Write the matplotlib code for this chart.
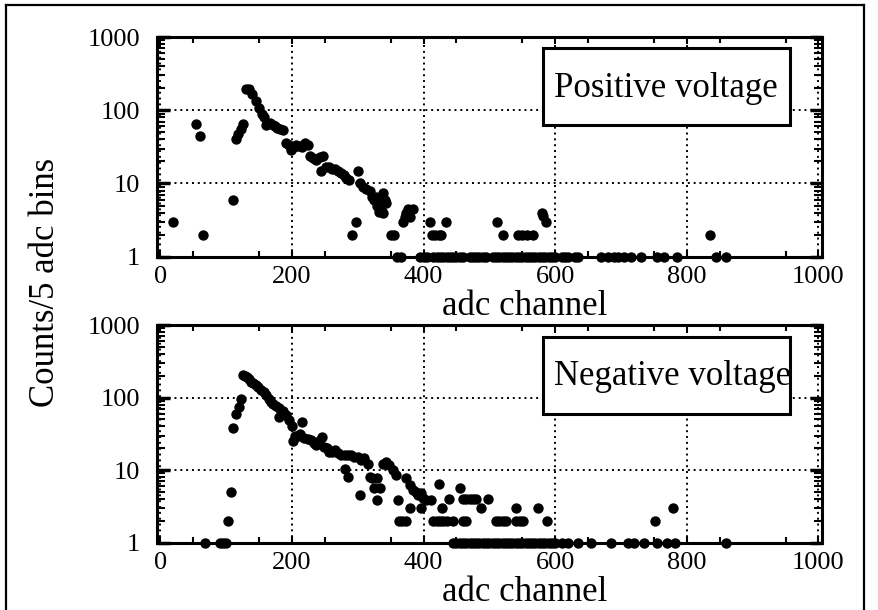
import matplotlib
matplotlib.use("Agg")
import matplotlib.pyplot as plt
from matplotlib.patches import Rectangle
from matplotlib.lines import Line2D
from matplotlib.ticker import FixedLocator, LogLocator, NullFormatter

# ---------------- data ----------------
pos_x = [20, 55, 60, 65, 110, 115, 118, 122, 125,
         130, 135, 140, 145, 150, 155, 158, 161, 166, 171, 175, 178, 182, 186, 191, 195, 199,
         203, 206, 211, 216, 220, 224, 228, 232, 237, 242, 247, 244, 252, 257, 261, 265, 270,
         275, 279, 282, 287, 292, 297, 300, 304, 308, 313, 318, 322, 325, 328, 330, 333, 333,
         336, 338, 338, 341, 343, 350, 355, 369, 372, 374, 377, 379, 384, 410, 413, 418, 423,
         427, 434, 512, 521, 543, 550, 557, 567, 580, 582, 586, 836]
pos_y = [3, 65, 45, 2, 6, 40, 48, 55, 65,
         192, 192, 164, 133, 108, 90, 80, 62, 66, 63, 60, 57, 56, 54, 36, 33, 29,
         31, 33, 32, 31, 36, 34, 24, 22, 21, 23, 24, 15, 17, 17, 16, 16, 15,
         14, 13, 12, 11, 2, 3, 15, 10, 9, 8.5, 8, 6.5, 6, 6.5, 5, 5.5, 4.1,
         4.5, 7.4, 3.9, 6, 5.4, 2, 2, 3, 3.5, 4, 4.5, 3.5, 4.5, 3, 2, 2, 2,
         2, 3, 3, 2, 2, 2, 2, 2, 4, 3.6, 3, 2]
pos_ones = [360, 365, 395, 400, 405, 415, 420, 425, 430, 435, 440, 445, 450, 455, 460, 470,
            475, 480, 485, 490, 495, 505, 510, 515, 520, 525, 530, 535, 540, 545, 550, 555,
            560, 565, 570, 575, 580, 585, 590, 595, 600, 610, 615, 620, 630, 635, 670, 680,
            690, 695, 705, 715, 730, 755, 765, 785, 845, 860]

neg_x = [103, 107, 111, 115, 120, 122, 125, 128, 131, 135, 138, 141, 145, 149, 153, 157,
         161, 165, 168, 172, 176, 181, 181, 186, 191, 196, 200, 201, 204, 209, 213, 216,
         219, 224, 229, 233, 237, 241, 245, 249, 253, 257, 261, 266, 270, 275, 280, 280,
         285, 285, 290, 295, 300, 303, 305, 310, 315, 318, 322, 325, 330, 330, 334, 338,
         343, 348, 353, 358, 361, 363, 368, 373, 373, 379, 379, 384, 389, 391, 396, 396,
         399, 404, 412, 415, 420, 424, 425, 428, 430, 435, 439, 445, 455, 460, 460, 465,
         465, 470, 475, 480, 488, 498, 510, 515, 520, 525, 541, 540, 546, 551, 574, 587,
         751, 779]
neg_y = [2, 5, 38, 60, 74, 97, 205, 200, 192, 178, 165, 158, 148, 138, 126, 118,
         107, 97, 88, 82, 77, 54, 72, 66, 57, 49, 41, 25, 30, 30, 31, 46,
         28, 27, 26, 24, 22, 25, 29, 21, 20, 18, 18, 19, 17, 16, 16, 10.5,
         8, 16, 16, 15, 15, 4.5, 14, 14.5, 12, 8, 7.7, 5.6, 7.7, 3.9, 5.6, 12,
         13, 11.7, 10, 8.5, 3.9, 2, 2, 7.7, 2, 6.2, 3, 5.3, 5, 4.5, 4.8, 3,
         4.1, 3.9, 3.9, 2, 2, 6.5, 2, 3, 2, 2, 4, 2, 5.6, 2, 4, 2,
         4, 4, 4, 4, 3, 4, 2, 2, 2, 2, 3, 2, 2, 2, 3, 2,
         2, 3]
neg_ones = [68, 90, 95, 100] + list(range(445, 601, 5)) + [610, 620, 635, 655, 685, 710,
                                                          720, 735, 755, 770, 782, 860]

x_ticks = [0, 200, 400, 600, 800, 1000]
y_ticks = [1, 10, 100, 1000]
y_ticklabels = ["1", "10", "100", "1000"]
panel_labels = ["Positive voltage", "Negative voltage"]
x_label = "adc channel"
y_label = "Counts/5 adc bins"

# ---------------- figure ----------------
plt.rcParams['font.family'] = ['Liberation Serif', 'DejaVu Serif']
fig = plt.figure(figsize=(8.79, 6.10), dpi=100)
fig.patch.set_facecolor('white')

W, H = 879.0, 610.0
ax_left, ax_right = 157 / W, 821.7 / W
axes_boxes = [(ax_left, 1 - 256.7 / H, ax_right - ax_left, (256.7 - 37) / H),
              (ax_left, 1 - 542.7 / H, ax_right - ax_left, (542.7 - 325) / H)]

datasets = [(pos_x, pos_y, pos_ones), (neg_x, neg_y, neg_ones)]
label_baselines = [1 - 315 / H, 1 - 601 / H]
box_geom = [(0.581, 0.599, 0.371, 0.351, 0.597, 0.728),
            (0.581, 0.591, 0.371, 0.355, 0.597, 0.724)]

for i, (box, (xs, ys, ones)) in enumerate(zip(axes_boxes, datasets)):
    ax = fig.add_axes(box)
    ax.set_yscale('log')
    ax.set_xlim(-5, 1005)
    ax.set_ylim(1, 1000)

    ax.scatter(xs, ys, s=56, color='black', zorder=6, clip_on=False, linewidths=0)
    ax.scatter(ones, [1] * len(ones), s=56, color='black', zorder=6, clip_on=False,
               linewidths=0)

    ax.xaxis.set_major_locator(FixedLocator(x_ticks))
    ax.xaxis.set_minor_locator(FixedLocator(list(range(50, 1000, 100))))
    ax.set_xticklabels([str(t) for t in x_ticks])
    ax.yaxis.set_major_locator(FixedLocator(y_ticks))
    ax.yaxis.set_minor_locator(LogLocator(base=10, subs=range(2, 10)))
    ax.yaxis.set_minor_formatter(NullFormatter())
    ax.set_yticklabels(y_ticklabels)

    ax.tick_params(axis='both', which='both', direction='in', top=True, right=True,
                   labelsize=19, width=1.5, colors='black')
    ax.tick_params(axis='y', which='major', length=9, width=2.5, pad=12)
    ax.tick_params(axis='y', which='minor', length=6, width=1.5)
    ax.tick_params(axis='x', which='major', length=5, pad=7)
    ax.tick_params(axis='x', which='minor', length=4)

    ax.grid(True, which='major', color='black', linestyle=(0, (1, 2)), linewidth=1.4)
    ax.set_axisbelow(True)
    for sp in ax.spines.values():
        sp.set_linewidth(2.2)
        sp.set_zorder(7)

    bx, by, bw, bh, tx, ty = box_geom[i]
    ax.add_patch(Rectangle((bx, by), bw, bh, transform=ax.transAxes, facecolor='white',
                           edgecolor='none', zorder=8, clip_on=False))
    ax.text(tx, ty, panel_labels[i], transform=ax.transAxes, fontsize=25,
            ha='left', va='baseline', zorder=9)
    ax.add_patch(Rectangle((bx, by), bw, bh, transform=ax.transAxes, facecolor='none',
                           edgecolor='black', linewidth=2.2, zorder=10, clip_on=False))

    fig.text(525 / W, label_baselines[i], x_label, fontsize=25, ha='center', va='baseline')

fig.text(46 / W, 1 - 282 / H, y_label, fontsize=25, rotation=90, ha='center', va='center')

# outer frame
fig.add_artist(Line2D([6 / W, 6 / W], [0, 1 - 5 / H], transform=fig.transFigure,
                      color='black', linewidth=1.6))
fig.add_artist(Line2D([6 / W, 864 / W], [1 - 5 / H, 1 - 5 / H], transform=fig.transFigure,
                      color='black', linewidth=1.6))
fig.add_artist(Line2D([864 / W, 864 / W], [0, 1 - 5 / H], transform=fig.transFigure,
                      color='black', linewidth=1.6))

fig.savefig('out.png', dpi=100, facecolor='white')
